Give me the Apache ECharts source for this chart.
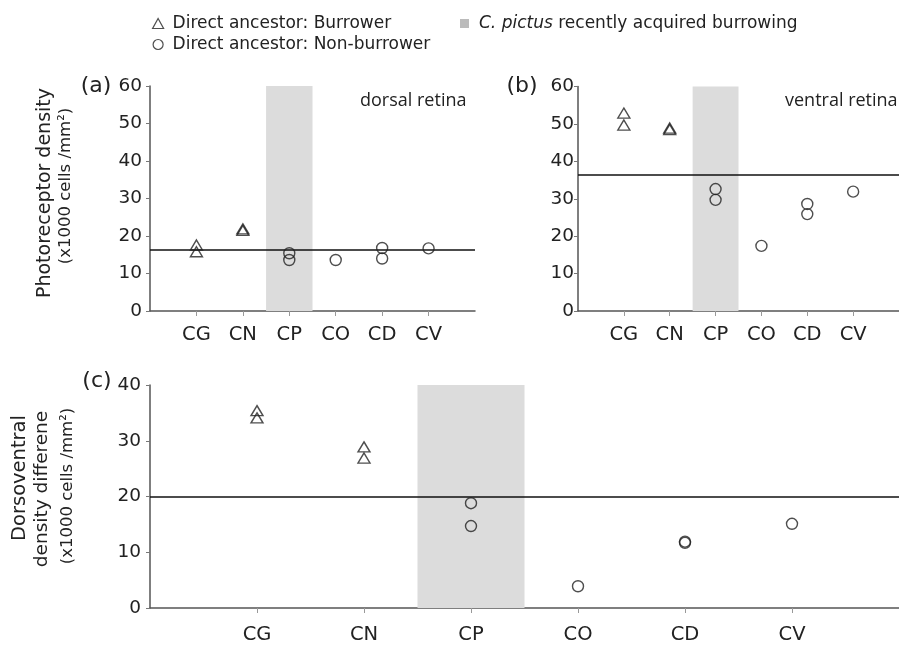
<!DOCTYPE html>
<html>
<head>
<meta charset="utf-8">
<script src="https://cdn.jsdelivr.net/npm/echarts@6/dist/echarts.min.js"></script>
<style>html,body{margin:0;padding:0;background:#fff}#c{width:899px;height:650px}</style>
</head>
<body>
<div id="c"></div>
<script>
// ---------- data ----------
const categories = ['CG', 'CN', 'CP', 'CO', 'CD', 'CV'];
const yTicksRetina = [0, 10, 20, 30, 40, 50, 60];
const yTicksDiff = [0, 10, 20, 30, 40];

const burrowerCats = ['CG', 'CG', 'CN', 'CN'];
const nonBurrowerCats = ['CP', 'CP', 'CO', 'CD', 'CD', 'CV'];

const dorsalBurrower = [17.6, 15.8, 21.9, 21.5];
const dorsalNonBurrower = [15.4, 13.6, 13.6, 16.8, 14.0, 16.7];
const ventralBurrower = [52.9, 49.7, 48.9, 48.5];
const ventralNonBurrower = [32.6, 29.7, 17.4, 28.6, 25.9, 31.9];
const diffBurrower = [35.4, 34.1, 28.9, 26.9];
const diffNonBurrower = [18.8, 14.7, 3.9, 11.9, 11.7, 15.1];

const refLineDorsal = 16.4;
const refLineVentral = 36.5;
const refLineDiff = 20.0;
const shadedCategory = 'CP';

const nameB = 'Direct ancestor: Burrower';
const nameN = 'Direct ancestor: Non-burrower';
const nameS = 'C. pictus recently acquired burrowing';

// ---------- helpers ----------
const FONT = 'DejaVu Sans';
const pts = (cats, vals) => cats.map((c, i) => [categories.indexOf(c) + 1, vals[i]]);
const catPos = categories.map((c, i) => i + 1);
const sIdx = categories.indexOf(shadedCategory) + 1;

function xAxisFor(g, margin) {
  return {
    type: 'value', gridIndex: g, min: 0, max: categories.length + 1, interval: 1,
    axisLine: { show: true, onZero: false, lineStyle: { color: '#555', width: 1.5 } },
    axisTick: { show: true, customValues: catPos, length: 5, lineStyle: { color: '#999', width: 1 } },
    axisLabel: { customValues: catPos, formatter: v => categories[v - 1] || '',
      fontFamily: FONT, fontSize: 19.5, color: '#222', margin: margin },
    splitLine: { show: false }
  };
}
function yAxisFor(g, ticks, margin) {
  return {
    type: 'value', gridIndex: g, min: ticks[0], max: ticks[ticks.length - 1], interval: ticks[1] - ticks[0],
    axisLine: { show: true, lineStyle: { color: '#555', width: 1.5 } },
    axisTick: { show: true, length: 4, lineStyle: { color: '#777', width: 1 } },
    axisLabel: { fontFamily: FONT, fontSize: 18.5, color: '#222', margin: margin },
    splitLine: { show: false }
  };
}
const markStyle = { color: 'rgba(0,0,0,0)', borderColor: '#222', borderWidth: 1.4 };
function seriesFor(g, bVals, nVals, refVal) {
  return [
    { name: nameB, type: 'scatter', xAxisIndex: g, yAxisIndex: g, symbol: 'triangle', symbolSize: [12, 10],
      itemStyle: markStyle, data: pts(burrowerCats, bVals), z: 5 },
    { name: nameN, type: 'scatter', xAxisIndex: g, yAxisIndex: g, symbol: 'circle', symbolSize: 11,
      itemStyle: markStyle, data: pts(nonBurrowerCats, nVals), z: 5,
      markArea: { silent: true, itemStyle: { color: '#dcdcdc' },
        data: [[{ xAxis: sIdx - 0.5 }, { xAxis: sIdx + 0.5 }]] },
      markLine: { silent: true, symbol: 'none', label: { show: false },
        lineStyle: { color: '#111', width: 1.6, type: 'solid' }, data: [{ yAxis: refVal }] } }
  ];
}

const chart = echarts.init(document.getElementById('c'), null, { renderer: 'canvas' });
const option = {
  animation: false,
  backgroundColor: '#fff',
  grid: [
    { left: 150, right: 424, top: 86, bottom: 339 },
    { left: 578, right: -6, top: 86.5, bottom: 339 },
    { left: 150, right: -6, top: 385, bottom: 42 }
  ],
  xAxis: [xAxisFor(0, 14), xAxisFor(1, 14), xAxisFor(2, 17)],
  yAxis: [yAxisFor(0, yTicksRetina, 8), yAxisFor(1, yTicksRetina, 4), yAxisFor(2, yTicksDiff, 9)],
  legend: [
    { orient: 'vertical', left: 147, top: 10, itemGap: 4, itemWidth: 11, itemHeight: 10,
      selectedMode: false,
      textStyle: { fontFamily: FONT, fontSize: 17, color: '#222', padding: [0, 0, 0, 4] },
      data: [
        { name: nameB, icon: 'triangle', itemStyle: { color: 'rgba(0,0,0,0)', borderColor: '#222', borderWidth: 1.2 } },
        { name: nameN, icon: 'circle', itemStyle: { color: 'rgba(0,0,0,0)', borderColor: '#222', borderWidth: 1.2 } }
      ] },
    { orient: 'vertical', left: 455, top: 10, itemWidth: 9, itemHeight: 9, selectedMode: false,
      textStyle: { fontFamily: FONT, fontSize: 17, color: '#222', padding: [0, 0, 0, 5],
        rich: { i: { fontStyle: 'italic', fontFamily: FONT, fontSize: 17, color: '#222' } } },
      formatter: n => n === nameS ? '{i|C. pictus} recently acquired burrowing' : n,
      data: [{ name: nameS, icon: 'rect', itemStyle: { color: '#aaa' } }] }
  ],
  series: [
    ...seriesFor(0, dorsalBurrower, dorsalNonBurrower, refLineDorsal),
    ...seriesFor(1, ventralBurrower, ventralNonBurrower, refLineVentral),
    ...seriesFor(2, diffBurrower, diffNonBurrower, refLineDiff),
    { name: nameS, type: 'scatter', xAxisIndex: 0, yAxisIndex: 0, data: [], itemStyle: { color: '#aaa' } }
  ],
  graphic: [
    { type: 'text', x: 96, y: 86, style: { text: '(a)', fontFamily: FONT, fontSize: 22, fill: '#222', align: 'center', verticalAlign: 'middle' } },
    { type: 'text', x: 522, y: 86, style: { text: '(b)', fontFamily: FONT, fontSize: 22, fill: '#222', align: 'center', verticalAlign: 'middle' } },
    { type: 'text', x: 97, y: 381, style: { text: '(c)', fontFamily: FONT, fontSize: 22, fill: '#222', align: 'center', verticalAlign: 'middle' } },
    { type: 'text', x: 360, y: 101, style: { text: 'dorsal retina', fontFamily: 'Open Sans', fontSize: 18, fill: '#222', align: 'left', verticalAlign: 'middle' } },
    { type: 'text', x: 785, y: 101, style: { text: 'ventral retina', fontFamily: 'Open Sans', fontSize: 18, fill: '#222', align: 'left', verticalAlign: 'middle' } },
    { type: 'text', x: 45, y: 193, rotation: Math.PI / 2, style: { text: 'Photoreceptor density', fontFamily: FONT, fontSize: 19, fill: '#222', align: 'center', verticalAlign: 'middle' } },
    { type: 'text', x: 66, y: 186, rotation: Math.PI / 2, style: { text: '(x1000 cells /mm²)', fontFamily: FONT, fontSize: 16.5, fill: '#222', align: 'center', verticalAlign: 'middle' } },
    { type: 'text', x: 20, y: 478, rotation: Math.PI / 2, style: { text: 'Dorsoventral', fontFamily: FONT, fontSize: 19.5, fill: '#222', align: 'center', verticalAlign: 'middle' } },
    { type: 'text', x: 42, y: 489, rotation: Math.PI / 2, style: { text: 'density differene', fontFamily: FONT, fontSize: 18.5, fill: '#222', align: 'center', verticalAlign: 'middle' } },
    { type: 'text', x: 68, y: 486, rotation: Math.PI / 2, style: { text: '(x1000 cells /mm²)', fontFamily: FONT, fontSize: 16.5, fill: '#222', align: 'center', verticalAlign: 'middle' } }
  ]
};
chart.setOption(option);
</script>
</body>
</html>
